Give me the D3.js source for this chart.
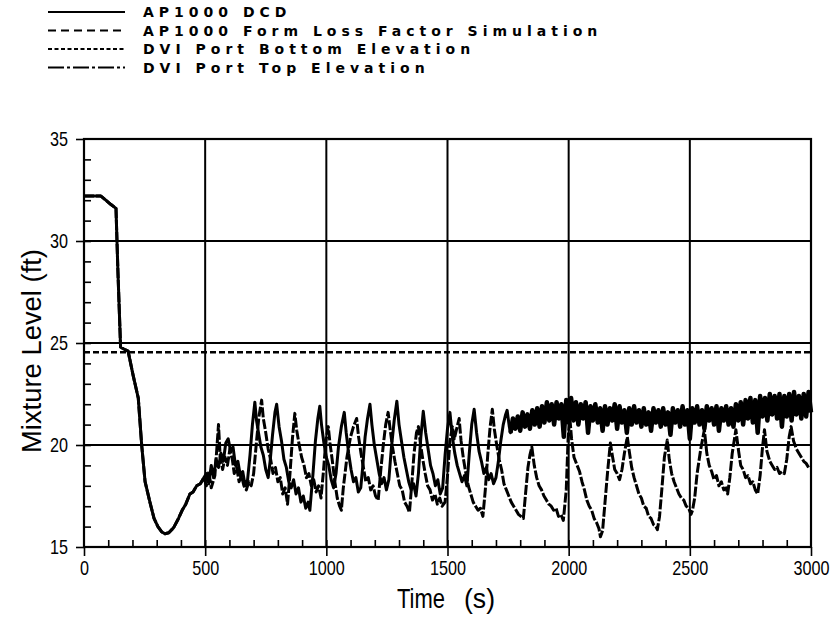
<!DOCTYPE html>
<html>
<head>
<meta charset="utf-8">
<script src="https://cdn.jsdelivr.net/npm/d3@7"></script>
<style>
body{margin:0;background:#fff}
text{fill:#000}
</style>
</head>
<body>
<svg width="831" height="618"></svg>
<script>
// tick values and labels
var xTicks = [0, 500, 1000, 1500, 2000, 2500, 3000]
var yTicks = [15, 20, 25, 30, 35]
var legendNames = ["AP1000 DCD", "AP1000 Form Loss Factor Simulation", "DVI Port Bottom Elevation", "DVI Port Top Elevation"]

// DVI port elevations (ft)
var portTop = 25.0
var portBottom = 24.55

// shared early part of both curves [time s, level ft]
var earlyPts = [[0,32.2],[40,32.2],[70,32.2],[90,32.0],[110,31.8],[132,31.6],[140,28.5],[151,24.8],[165,24.7],[182,24.6],
  [203,23.4],[224,22.3],[238,20.0],[252,18.2],[262,17.7],[272,17.2],[289,16.4],[305,16.0],[320,15.75],[334,15.65],
  [350,15.7],[370,15.95],[390,16.4],[405,16.8],[420,17.1],[437,17.6],[450,17.7],[465,18.0],[480,18.1],[495,18.4]]

// AP1000 DCD after 500 s
var dcdPts = [[505,18.6],[515,18.1],[525,19.0],[535,18.4],[545,19.3],[555,18.9],[565,19.6],[575,19.2],[585,20.1],[595,20.3],
  [605,19.7],[615,19.9],[625,19.0],[635,19.2],[645,18.5],[655,18.7],[665,18.0],[675,18.3],[685,19.5],[695,21.0],
  [705,22.1],[712,21.2],[720,20.6],[730,19.9],[740,19.5],[750,18.8],[760,18.4],[768,19.2],[778,20.5],[788,21.6],
  [795,22.0],[805,20.9],[815,20.2],[825,19.3],[835,18.9],[845,18.2],[855,17.9],[865,18.3],[875,17.6],[885,17.9],
  [895,17.2],[905,17.5],[915,16.9],[925,17.2],[932,16.8],[945,18.6],[955,20.2],[965,21.3],[973,21.9],[980,21.0],
  [990,20.1],[1000,19.4],[1010,19.0],[1020,18.3],[1030,17.9],[1040,18.6],[1050,19.9],[1062,20.9],[1074,21.6],[1082,20.6],
  [1092,19.6],[1102,18.8],[1112,18.2],[1122,18.4],[1132,17.7],[1142,17.9],[1150,18.9],[1160,20.4],[1170,21.3],[1180,22.0],
  [1188,21.0],[1198,20.0],[1208,19.3],[1218,18.6],[1228,18.1],[1238,18.4],[1248,17.8],[1258,18.3],[1268,19.8],[1280,21.2],
  [1291,22.15],[1300,21.0],[1310,20.2],[1320,19.4],[1330,18.8],[1340,18.2],[1350,17.8],[1360,18.1],[1370,17.5],[1380,18.6],
  [1390,20.4],[1400,21.65],[1410,20.6],[1420,19.8],[1430,19.0],[1440,18.6],[1450,18.0],[1460,18.3],[1470,17.6],[1480,17.9],
  [1490,19.5],[1500,20.8],[1510,21.6],[1520,20.4],[1530,19.6],[1540,19.0],[1550,18.6],[1560,18.2],[1570,18.5],[1580,18.0],
  [1590,19.6],[1600,21.0],[1610,21.75],[1620,20.6],[1630,19.7],[1640,19.2],[1650,18.6],[1660,18.9],[1670,18.3],[1680,18.6],
  [1690,18.1],[1700,18.4],[1710,19.2],[1720,20.2],[1730,21.0],[1740,21.5],[1746,21.7],[1755,20.9]]

// AP1000 DCD noisy band, one value every 10 s from 1760 s
var bandStart = 1760
var dcdBand = [20.6,21.3,20.8,21.4,20.7,21.6,20.9,21.5,20.8,21.7,21.0,21.8,20.9,21.9,21.1,22.1,21.2,22.0,21.0,22.1,
  21.3,22.0,20.4,22.2,21.1,22.3,21.2,22.1,21.0,22.0,21.3,22.1,20.6,21.9,21.2,22.0,21.1,21.8,20.7,21.9,
  21.0,21.8,21.2,22.0,20.8,21.9,21.1,21.7,20.6,21.8,21.0,21.9,21.1,21.7,20.9,21.8,21.0,21.6,20.7,21.8,
  21.1,21.7,20.9,21.8,21.0,21.6,20.5,21.8,21.1,21.7,20.9,21.9,21.0,21.7,20.3,21.8,21.1,21.9,21.0,21.7,
  20.8,21.9,21.2,21.8,21.0,21.9,20.7,21.8,21.2,21.9,21.0,21.8,20.9,22.0,21.2,22.1,21.0,22.2,21.3,22.3,
  21.1,22.2,20.6,22.4,21.4,22.3,21.2,22.5,21.5,22.4,21.3,22.5,20.9,22.4,21.4,22.5,21.2,22.6,21.5,22.4,
  21.3,22.5,21.4,22.6,21.6]

// AP1000 Form Loss Factor Simulation after 500 s
var simPts = [[505,18.0],[515,18.7],[525,17.9],[540,18.5],[548,19.8],[555,21.0],[562,19.4],[572,18.8],[582,19.4],[592,19.0],
  [602,19.8],[612,19.3],[620,18.6],[630,18.9],[640,18.2],[650,18.5],[660,18.0],[670,17.8],[680,18.2],[690,18.0],
  [700,18.6],[712,20.2],[722,21.4],[733,22.2],[740,21.3],[750,20.6],[760,19.8],[770,19.3],[780,18.6],[790,18.9],
  [800,18.2],[810,18.4],[820,17.6],[830,17.9],[840,17.1],[850,18.6],[860,20.3],[870,21.55],[878,20.7],[888,20.0],
  [898,19.4],[908,19.0],[918,18.4],[928,18.6],[938,18.0],[948,18.3],[958,17.7],[968,18.0],[978,17.4],[988,18.7],
  [998,20.2],[1008,20.9],[1015,20.1],[1025,19.2],[1035,18.2],[1045,17.4],[1055,17.0],[1062,16.8],[1070,17.9],[1085,19.4],
  [1100,20.4],[1112,20.9],[1125,21.3],[1133,20.4],[1143,19.6],[1153,18.9],[1163,18.2],[1173,18.4],[1183,17.8],[1193,18.0],
  [1203,17.5],[1214,17.3],[1225,18.8],[1235,20.0],[1245,21.0],[1255,21.6],[1263,20.8],[1273,19.9],[1283,19.2],[1293,18.6],
  [1303,18.0],[1313,17.8],[1323,17.2],[1333,17.0],[1343,16.7],[1352,18.0],[1362,19.6],[1372,20.6],[1380,20.9],[1388,20.1],
  [1398,19.3],[1408,18.6],[1418,18.0],[1428,17.8],[1438,17.3],[1448,17.6],[1458,17.1],[1468,17.4],[1478,17.0],[1490,17.2],
  [1500,18.5],[1510,20.2],[1520,20.9],[1528,20.3],[1538,20.8],[1548,21.3],[1556,20.2],[1566,19.3],[1576,18.6],[1586,18.0],
  [1596,17.6],[1606,17.2],[1616,17.0],[1626,16.8],[1636,16.9],[1646,16.5],[1656,17.8],[1666,19.5],[1676,20.9],[1685,21.75],
  [1693,20.8],[1703,20.0],[1713,19.3],[1723,18.8],[1733,18.1],[1743,17.8],[1753,17.5],[1763,17.2],[1773,17.0],[1783,16.8],
  [1793,16.6],[1803,16.5],[1813,16.4],[1822,17.6],[1832,18.9],[1840,19.5],[1848,19.9],[1858,19.0],[1868,18.4],[1878,18.0],
  [1888,17.8],[1898,17.5],[1908,17.3],[1918,17.1],[1928,17.0],[1938,16.8],[1948,16.9],[1958,16.5],[1968,16.6],[1978,16.3],
  [1990,17.8],[1998,20.4],[2005,21.3],[2012,20.3],[2022,19.4],[2035,19.0],[2045,18.7],[2055,18.2],[2065,17.8],[2075,17.3],
  [2085,17.0],[2095,16.8],[2105,16.4],[2115,16.2],[2125,15.9],[2131,15.5],[2140,15.8],[2150,17.2],[2160,18.6],[2172,20.1],
  [2180,19.5],[2190,18.8],[2200,18.6],[2210,18.3],[2220,18.8],[2230,19.6],[2242,20.4],[2250,19.7],[2260,18.9],[2270,18.4],
  [2280,18.0],[2290,17.6],[2300,17.4],[2310,17.0],[2320,16.9],[2330,16.5],[2340,16.4],[2350,16.1],[2360,16.0],[2366,15.85],
  [2375,16.5],[2385,17.9],[2395,19.4],[2407,20.25],[2415,19.3],[2425,18.6],[2435,18.2],[2445,17.9],[2455,17.6],[2465,17.4],
  [2475,17.3],[2485,17.0],[2495,16.9],[2505,16.6],[2511,16.8],[2520,17.4],[2530,18.6],[2545,19.8],[2560,20.75],[2570,19.6],
  [2580,19.0],[2590,18.7],[2600,18.3],[2610,18.5],[2620,18.0],[2630,18.2],[2640,17.8],[2650,17.9],[2656,17.6],[2665,18.4],
  [2675,19.6],[2690,20.75],[2700,19.8],[2710,19.0],[2720,18.8],[2730,18.4],[2740,18.5],[2750,18.1],[2760,18.2],[2770,17.8],
  [2780,17.6],[2790,18.5],[2800,19.9],[2808,20.75],[2818,19.7],[2830,19.2],[2840,19.0],[2850,18.8],[2860,18.9],[2870,18.6],
  [2880,18.7],[2890,18.6],[2900,19.3],[2910,20.4],[2918,20.9],[2928,20.2],[2940,19.8],[2950,19.6],[2960,19.4],[2970,19.2],
  [2980,19.1],[2990,18.9],[3000,18.9]]


var plot = {left:84, right:811, top:139, bottom:547}

var svg = d3.select("svg")

var xScale = d3.scaleLinear().domain([0,3000]).range([plot.left, plot.right])
var yScale = d3.scaleLinear().domain([15,35]).range([plot.bottom, plot.top])

var line = d3.line()
  .x(function(d){return xScale(d[0])})
  .y(function(d){return yScale(d[1])})

var tickFont = "'Liberation Sans','Arial',sans-serif"

// squeeze a text to a given width (the original uses a narrow font)
var squeeze = function(sel, perChar) {
  sel.attr("textLength", function(){return this.textContent.length * perChar})
     .attr("lengthAdjust", "spacingAndGlyphs")
}

// grid lines
svg.append("g")
  .selectAll("line")
  .data([20, 25, 30])
  .enter()
  .append("line")
  .attr("x1", plot.left).attr("x2", plot.right)
  .attr("y1", function(d){return yScale(d)}).attr("y2", function(d){return yScale(d)})
  .attr("stroke", "#000").attr("stroke-width", 2)

svg.append("g")
  .selectAll("line")
  .data([500, 1000, 1500, 2000, 2500])
  .enter()
  .append("line")
  .attr("y1", plot.top).attr("y2", plot.bottom)
  .attr("x1", function(d){return xScale(d)}).attr("x2", function(d){return xScale(d)})
  .attr("stroke", "#000").attr("stroke-width", 2)

// minor ticks (inside)
svg.append("g")
  .attr("transform", "translate(0," + plot.bottom + ")")
  .call(d3.axisTop(xScale).tickValues(d3.range(100, 3000, 100)).tickSize(7).tickFormat(""))
svg.append("g")
  .attr("transform", "translate(" + plot.left + ",0)")
  .call(d3.axisRight(yScale).tickValues(d3.range(16, 35, 1)).tickSize(7).tickFormat(""))

// major ticks with labels
svg.append("g")
  .attr("transform", "translate(0," + plot.bottom + ")")
  .call(d3.axisBottom(xScale).tickValues(xTicks).tickSize(9).tickPadding(4).tickFormat(d3.format("d")))
svg.append("g")
  .attr("transform", "translate(" + plot.left + ",0)")
  .call(d3.axisLeft(yScale).tickValues(yTicks).tickSize(8).tickPadding(8).tickFormat(d3.format("d")))

svg.selectAll(".domain").remove()
svg.selectAll(".tick line").attr("stroke", "#000").attr("stroke-width", 1.6)
svg.selectAll(".tick text")
  .style("font-family", tickFont)
  .style("font-size", "21px")
  .attr("fill", "#000")
  .call(squeeze, 9)

// frame
svg.append("rect")
  .attr("x", plot.left).attr("y", plot.top)
  .attr("width", plot.right - plot.left).attr("height", plot.bottom - plot.top)
  .attr("fill", "none").attr("stroke", "#000").attr("stroke-width", 2.2)

// DVI port elevations
svg.append("line")
  .attr("x1", plot.left).attr("x2", plot.right)
  .attr("y1", yScale(portTop)).attr("y2", yScale(portTop))
  .attr("stroke", "#000").attr("stroke-width", 2).attr("stroke-dasharray", "16,2,3,2")
svg.append("line")
  .attr("x1", plot.left).attr("x2", plot.right)
  .attr("y1", yScale(portBottom)).attr("y2", yScale(portBottom))
  .attr("stroke", "#000").attr("stroke-width", 2.4).attr("stroke-dasharray", "6,3")

// curves
var bandPts = dcdBand.map(function(v, i){return [bandStart + i*10, v]})
var dcdAll = earlyPts.concat(dcdPts, bandPts)
var simAll = earlyPts.concat(simPts)

svg.append("path")
  .datum(simAll)
  .attr("d", line)
  .attr("fill", "none").attr("stroke", "#000").attr("stroke-width", 3)
  .attr("stroke-dasharray", "10,2")
  .attr("stroke-linejoin", "round")

svg.append("path")
  .datum(dcdAll)
  .attr("d", line)
  .attr("fill", "none").attr("stroke", "#000").attr("stroke-width", 3)
  .attr("stroke-linejoin", "round")

// the scanned band is solid black, so draw that part heavier
svg.append("path")
  .datum(bandPts)
  .attr("d", line)
  .attr("fill", "none").attr("stroke", "#000").attr("stroke-width", 4.5)
  .attr("stroke-linejoin", "round")

// axis titles
svg.append("text")
  .attr("x", 397).attr("y", 608)
  .style("font-family", tickFont).style("font-size", "28px")
  .attr("textLength", 48).attr("lengthAdjust", "spacingAndGlyphs")
  .text("Time")
svg.append("text")
  .attr("x", 464).attr("y", 608)
  .style("font-family", tickFont).style("font-size", "28px")
  .attr("textLength", 31).attr("lengthAdjust", "spacingAndGlyphs")
  .text("(s)")

svg.append("text")
  .attr("transform", "translate(41,351) rotate(-90)")
  .attr("text-anchor", "middle")
  .style("font-family", tickFont).style("font-size", "27px")
  .attr("textLength", 204).attr("lengthAdjust", "spacingAndGlyphs")
  .text("Mixture Level (ft)")

// legend
var legendDash = [null, "8,5", "4,2.5", "16,3,3,3"]
var legend = svg.append("g")
  .selectAll("g")
  .data(legendNames)
  .enter()
  .append("g")
  .attr("transform", function(d, i){return "translate(0," + (12 + i*18.5) + ")"})

legend.append("line")
  .attr("x1", 48).attr("x2", 125)
  .attr("stroke", "#000").attr("stroke-width", 2)
  .attr("stroke-dasharray", function(d, i){return legendDash[i]})

legend.append("text")
  .attr("x", 143).attr("y", 5)
  .style("font-family", "'DejaVu Sans',sans-serif")
  .style("font-weight", "bold")
  .style("font-size", "14px")
  .style("letter-spacing", "5px")
  .text(function(d){return d})
</script>
</body>
</html>
